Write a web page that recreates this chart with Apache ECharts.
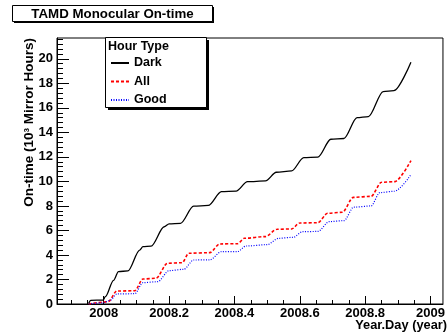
<!DOCTYPE html>
<html>
<head>
<meta charset="utf-8">
<script src="https://cdn.jsdelivr.net/npm/echarts@6/dist/echarts.min.js"></script>
<style>
  html, body { margin: 0; padding: 0; background: #fff; }
  #chart { width: 448px; height: 332px; }
</style>
</head>
<body>
<div id="chart"></div>
<script>
// Cumulative monocular on-time per hour type (10^3 mirror hours vs decimal year)
const darkYears = [2007.954, 2007.960, 2007.998, 2008.005, 2008.030, 2008.045, 2008.074, 2008.110, 2008.120, 2008.145,
  2008.185, 2008.200, 2008.235, 2008.275, 2008.320, 2008.360, 2008.405, 2008.440, 2008.495, 2008.528,
  2008.575, 2008.612, 2008.655, 2008.695, 2008.735, 2008.775, 2008.810, 2008.855, 2008.888, 2008.940];
const darkHours = [0.05, 0.30, 0.32, 0.60, 1.93, 2.64, 2.70, 4.40, 4.68, 4.72,
  6.30, 6.53, 6.58, 7.98, 8.04, 9.17, 9.21, 9.98, 10.04, 10.75,
  10.86, 11.94, 11.98, 13.44, 13.50, 15.20, 15.29, 17.33, 17.41, 19.73];

const allYears = [2007.954, 2007.998, 2008.014, 2008.040, 2008.095, 2008.120, 2008.160, 2008.195, 2008.240, 2008.260,
  2008.325, 2008.355, 2008.410, 2008.430, 2008.495, 2008.530, 2008.575, 2008.599, 2008.655, 2008.685,
  2008.730, 2008.764, 2008.818, 2008.850, 2008.890, 2008.940];
const allHours = [0.00, 0.15, 0.20, 1.06, 1.08, 2.04, 2.10, 3.32, 3.37, 4.14,
  4.19, 4.90, 4.92, 5.36, 5.50, 6.10, 6.12, 6.61, 6.63, 7.40,
  7.48, 8.70, 8.78, 9.93, 9.98, 11.70];

const goodYears = [2007.954, 2007.998, 2008.020, 2008.040, 2008.095, 2008.120, 2008.165, 2008.200, 2008.245, 2008.275,
  2008.325, 2008.360, 2008.410, 2008.435, 2008.500, 2008.535, 2008.580, 2008.608, 2008.655, 2008.690,
  2008.735, 2008.765, 2008.818, 2008.845, 2008.890, 2008.940];
const goodHours = [0.00, 0.10, 0.30, 0.82, 0.84, 1.74, 1.82, 2.72, 2.83, 3.59,
  3.60, 4.27, 4.28, 4.73, 4.84, 5.36, 5.44, 5.90, 5.92, 6.72,
  6.80, 7.90, 8.00, 9.09, 9.20, 10.55];

const seriesNames = ['Dark', 'All', 'Good'];
const xTickLabels = [2008, 2008.2, 2008.4, 2008.6, 2008.8, 2009];
const yTickLabels = [0, 2, 4, 6, 8, 10, 12, 14, 16, 18, 20];

const X_MIN = 2007.857, X_MAX = 2009.038;
const Y_MIN = 0, Y_MAX = 21.7;

// minor tick positions between labelled ticks
const xMinor = [];
for (let i = 0; i <= 22; i++) {
  const v = Math.round((2007.9 + i * 0.05) * 1000) / 1000;
  if (Math.round(v * 1000) % 200 !== 0 && v < X_MAX) xMinor.push(v);
}
const yMinor = [];
for (let i = 1; i <= 54; i++) {
  const v = Math.round(i * 0.4 * 10) / 10;
  if (Math.round(v * 10) % 20 !== 0 && v < Y_MAX) yMinor.push(v);
}

const FONT = '"Liberation Sans", Arial, Helvetica, sans-serif';
const pairs = (xs, ys) => xs.map((x, i) => [x, ys[i]]);

const chart = echarts.init(document.getElementById('chart'), null, { renderer: 'canvas' });

chart.setOption({
  animation: false,
  backgroundColor: '#fff',
  grid: {
    left: 57, top: 38, width: 393, height: 266,
    show: true, borderColor: '#000', borderWidth: 1, backgroundColor: 'transparent'
  },
  xAxis: [
    {
      type: 'value', min: X_MIN, max: X_MAX,
      axisLine: { show: true, lineStyle: { color: '#000', width: 1 } },
      axisTick: { show: true, inside: true, length: 8, customValues: xTickLabels, lineStyle: { color: '#000' } },
      axisLabel: {
        customValues: xTickLabels, margin: 3,
        formatter: v => String(Math.round(v * 10) / 10),
        fontFamily: FONT, fontWeight: 'bold', fontSize: 13, color: '#000'
      },
      splitLine: { show: false }
    },
    {
      type: 'value', min: X_MIN, max: X_MAX, position: 'bottom',
      axisLine: { show: false },
      axisTick: { show: true, inside: true, length: 4, customValues: xMinor, lineStyle: { color: '#000' } },
      axisLabel: { show: false },
      splitLine: { show: false }
    }
  ],
  yAxis: [
    {
      type: 'value', min: Y_MIN, max: Y_MAX,
      axisLine: { show: true, lineStyle: { color: '#000', width: 1 } },
      axisTick: { show: true, inside: true, length: 12, customValues: yTickLabels, lineStyle: { color: '#000' } },
      axisLabel: {
        customValues: yTickLabels, margin: 4,
        fontFamily: FONT, fontWeight: 'bold', fontSize: 13, color: '#000'
      },
      splitLine: { show: false }
    },
    {
      type: 'value', min: Y_MIN, max: Y_MAX, position: 'left',
      axisLine: { show: false },
      axisTick: { show: true, inside: true, length: 6, customValues: yMinor, lineStyle: { color: '#000' } },
      axisLabel: { show: false },
      splitLine: { show: false }
    }
  ],
  legend: {
    orient: 'vertical', left: 110, top: 56.5, padding: 0,
    itemWidth: 18, itemHeight: 12, itemGap: 5.5,
    selectedMode: false,
    data: seriesNames,
    itemStyle: { opacity: 0, color: 'rgba(0,0,0,0)', borderColor: 'rgba(0,0,0,0)', borderWidth: 0 },
    textStyle: { fontFamily: FONT, fontWeight: 'bold', fontSize: 12.5, color: '#000', padding: [0, 0, 0, 0] }
  },
  series: [
    {
      name: 'Dark', type: 'line', data: pairs(darkYears, darkHours),
      showSymbol: false, symbol: 'none', smooth: 0.3, smoothMonotone: 'x',
      lineStyle: { color: '#000', width: 1.3, type: 'solid' }, itemStyle: { color: '#000' }, z: 3
    },
    {
      name: 'All', type: 'line', data: pairs(allYears, allHours),
      showSymbol: false, symbol: 'none', smooth: 0.3, smoothMonotone: 'x',
      lineStyle: { color: '#ff0000', width: 1.6, type: [3, 2] }, itemStyle: { color: '#ff0000' }, z: 2
    },
    {
      name: 'Good', type: 'line', data: pairs(goodYears, goodHours),
      showSymbol: false, symbol: 'none', smooth: 0.3, smoothMonotone: 'x',
      lineStyle: { color: '#0000ff', width: 1.2, type: [1, 1.5] }, itemStyle: { color: '#0000ff' }, z: 2
    }
  ],
  graphic: [
    // title box with drop shadow
    { type: 'rect', z: 10, shape: { x: 14, y: 7, width: 200, height: 16 }, style: { fill: '#000' } },
    { type: 'rect', z: 11, shape: { x: 12.5, y: 5.5, width: 200, height: 16 }, style: { fill: '#fff', stroke: '#000', lineWidth: 1 } },
    { type: 'text', z: 12, x: 112.5, y: 14, style: {
        text: 'TAMD Monocular On-time', font: 'bold 13.3px ' + FONT,
        fill: '#000', align: 'center', verticalAlign: 'middle' } },
    // legend frame with drop shadow
    { type: 'rect', z: 1, shape: { x: 108, y: 40, width: 101, height: 70 }, style: { fill: '#000' } },
    { type: 'rect', z: 2, shape: { x: 105.5, y: 37.5, width: 101, height: 70 }, style: { fill: '#fff', stroke: '#000', lineWidth: 1 } },
    { type: 'text', z: 12, x: 108, y: 46.5, style: {
        text: 'Hour Type', font: 'bold 12.5px ' + FONT,
        fill: '#000', align: 'left', verticalAlign: 'middle' } },
    // axis titles
    { type: 'text', z: 12, x: 447, y: 325, style: {
        text: 'Year.Day (year)', font: 'bold 12.8px ' + FONT,
        fill: '#000', align: 'right', verticalAlign: 'middle' } },
    { type: 'text', z: 12, x: 29, y: 38, rotation: Math.PI / 2, style: {
        text: 'On-time (10³ Mirror Hours)', font: 'bold 13.5px ' + FONT,
        fill: '#000', align: 'right', verticalAlign: 'middle' } }
  ]
});
</script>
</body>
</html>
